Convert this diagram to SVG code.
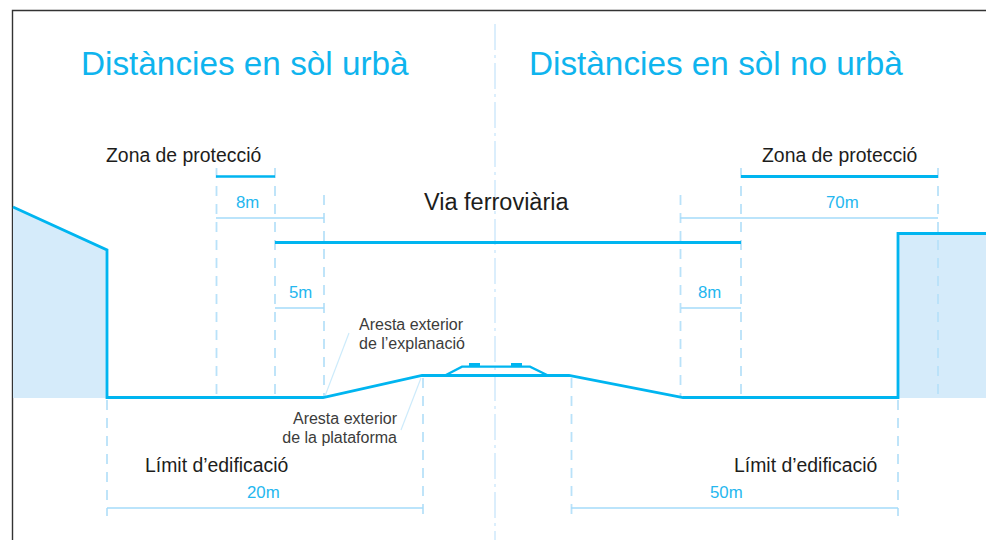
<svg xmlns="http://www.w3.org/2000/svg" width="986" height="540" viewBox="0 0 986 540">
<style>
text{font-family:"Liberation Sans",Arial,sans-serif}
.title{font-size:33.300px;fill:#0fb4ee}
.head{font-size:19.400px;fill:#1d1d1b}
.via{font-size:23.500px;fill:#1d1d1b}
.dim{font-size:16.800px;fill:#25b7ef}
.note{font-size:16px;fill:#3c3c3b}
.fill{fill:#d5ebfa;stroke:none}
.thick{fill:none;stroke:#00b5f0;stroke-width:2.800}
.mid{fill:none;stroke:#00b5f0;stroke-width:2.300}
.dash{fill:none;stroke:#b9e2f9;stroke-width:1.800;stroke-dasharray:10 8}
.dimline{fill:none;stroke:#a5dcfa;stroke-width:1.500}
.leader{fill:none;stroke:#cdebfb;stroke-width:1.200}
.axis{fill:none;stroke:#cfe9fb;stroke-width:1.500;stroke-dasharray:26 5 3 5}
</style>
<path id="frame" d="M12.500 540V10.500H986" fill="none" stroke="#333" stroke-width="1.400"/>
<g id="edifici-esquerra"><polygon class="fill" points="13,207 107,250 107,398 13,398"/></g>
<g id="edifici-dreta"><rect class="fill" x="898" y="233" width="88" height="165"/></g>
<g id="connectors">
<path class="axis" d="M495 24V540"/>
<path class="dash" d="M216.500 168V397M275 168V397M324 195V397M680.500 195V397M741 168V397M938 168V397"/>
<path class="dash" d="M107 400V516M423 378V516M571.500 378V516M898 400V516"/>
<path class="dimline" d="M216 218H324M275 308H324M680 218H938M681 308H741M107 508H423M571 508H898"/>
<path class="leader" d="M325 396L349 333M421 378L401 430"/>
<path class="thick" d="M13 207L107 250V397.500H323L422 375.500H569L683 397.500H898V233.500H986"/>
<path class="thick" d="M275 242.500H741"/>
<path class="mid" d="M216 176.500H275"/>
<path class="thick" d="M741 176.500H938"/>
<path class="mid" d="M445 375.500L462 366.700H530L548 375.500"/>
<path d="M469 363H480V367H469ZM511 363H522V367H511Z" fill="#00b5f0"/>
</g>
<g id="titol-urba"><text class="title" x="81" y="75">Distàncies en sòl urbà</text></g>
<g id="titol-no-urba"><text class="title" x="529" y="75">Distàncies en sòl no urbà</text></g>
<g id="zona-esquerra"><text class="head" x="106" y="161.700">Zona de protecció</text></g>
<g id="zona-dreta"><text class="head" x="762" y="161.700">Zona de protecció</text></g>
<g id="via"><text class="via" x="424" y="209.700">Via ferrovi&#224;ria</text></g>
<g id="cotes">
<text class="dim" x="236" y="208">8m</text>
<text class="dim" x="289" y="298">5m</text>
<text class="dim" x="826" y="208">70m</text>
<text class="dim" x="698" y="298">8m</text>
<text class="dim" x="247" y="498">20m</text>
<text class="dim" x="710" y="498">50m</text>
</g>
<g id="aresta-explanacio"><text class="note" x="359" y="329.500">Aresta exterior</text><text class="note" x="359" y="349">de l’explanació</text></g>
<g id="aresta-plataforma"><text class="note" x="397" y="423.500" text-anchor="end">Aresta exterior</text><text class="note" x="397" y="442.500" text-anchor="end">de la plataforma</text></g>
<g id="limit-esquerra"><text class="head" x="145" y="471.700">Límit d’edificació</text></g>
<g id="limit-dreta"><text class="head" x="734" y="471.700">Límit d’edificació</text></g>
</svg>
